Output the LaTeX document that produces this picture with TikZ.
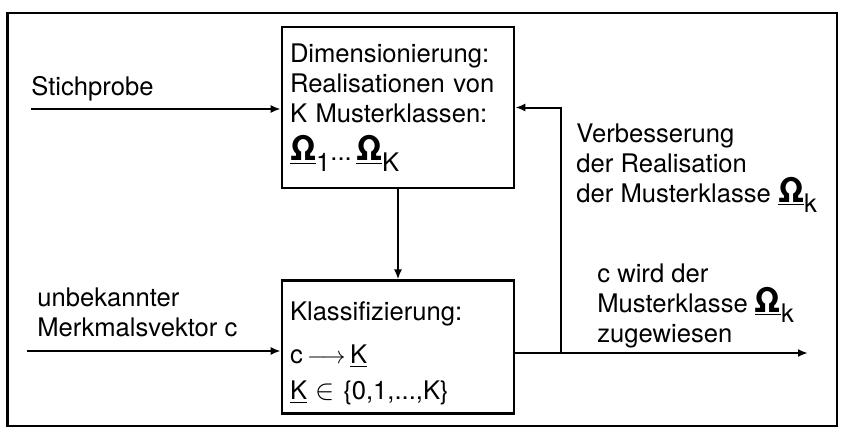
\documentclass[tikz,border=0pt]{standalone}
\usepackage{fontspec}
\setmainfont{TeX Gyre Heros}
\usetikzlibrary{arrows.meta,positioning}

\newcommand{\Omk}[1]{{\fontsize{17}{17}\selectfont\underline{\textbf{Ω}}}\raisebox{-0.8ex}{#1}}

\begin{document}
\begin{tikzpicture}[
  x=0.5pt, y=-0.5pt,
  every node/.style={font=\fontsize{12.8}{15}\selectfont},
  box/.style={draw, line width=1.3pt, align=left, text width=108pt, inner sep=4pt},
  lbl/.style={align=left, inner sep=0pt, anchor=north west},
  arr/.style={-{Latex[length=5pt,width=4pt]}, line width=1pt}
]
  \useasboundingbox (0,0) rectangle (855,433);
  \draw[line width=1.3pt] (7.5,13) rectangle (837,426);

  % the two blocks
  \node[box, minimum height=80.5pt] (dim) at (398,107.5)
    {Dimensionierung:\\Realisationen von\\K Musterklassen:\\[4pt]\Omk{1}...\,\Omk{K}};
  \node[box, minimum height=61pt] (kla) at (398,347)
    {\rule{0pt}{16pt}Klassifizierung:\\[6.5pt]c\,$\longrightarrow$\,\underline{K}\\[3pt]\underline{K} {\Large$\in$} \{0,1,...,K\}};

  % inputs
  \coordinate (stin) at (31,109);
  \coordinate (mvin) at (27,351);
  \node[lbl] (stich) at (31,76) {Stichprobe};
  \node[lbl] (merk) at (37,287) {unbekannter\\Merkmalsvektor c};

  % output and feedback
  \coordinate (out) at (808,353);
  \coordinate (fb) at (561,353);
  \node[lbl] (verb) at (576,123) {Verbesserung\\der Realisation\\der Musterklasse \Omk{k}};
  \node[lbl] (zuw) at (597,263) {c wird der\\Musterklasse \Omk{k}\\zugewiesen};

  \draw[arr] (stin) -- (stin -| dim.west);
  \draw[arr] (mvin) -- (mvin -| kla.west);
  \draw[arr] (dim) -- (kla);
  \draw[arr] (out -| kla.east) -- (out);
  \draw[arr] (fb) |- (dim.east);
\end{tikzpicture}
\end{document}
